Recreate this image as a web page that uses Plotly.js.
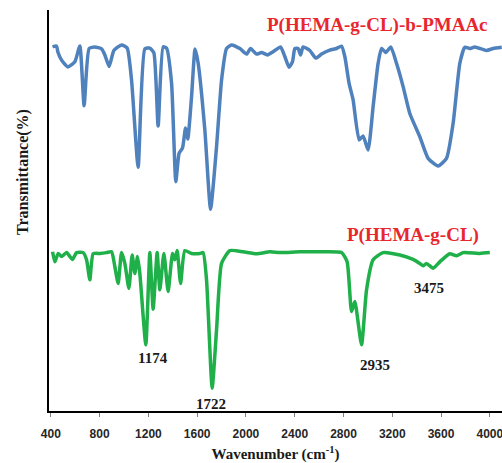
<!DOCTYPE html>
<html>
<head>
<meta charset="utf-8">
<script src="https://cdn.plot.ly/plotly-3.0.1.min.js"></script>
<style>html,body{margin:0;padding:0;background:#fff;}#chart{width:502px;height:463px;}</style>
</head>
<body>
<div id="chart"></div>
<script>
// P(HEMA-g-CL)-b-PMAAc spectrum (upper, blue)
const blueWavenumber = [414,447,457,488,539,597,638,673,714,761,816,843,878,917,980,1026,1062,1116,1171,1212,1245,1280,1321,1349,1390,1425,1452,1480,1505,1523,1554,1583,1608,1663,1710,1759,1800,1841,1882,1950,2005,2038,2087,2128,2177,2223,2284,2319,2354,2382,2401,2428,2448,2469,2524,2573,2620,2688,2743,2784,2811,2846,2879,2928,2961,3002,3043,3084,3112,3147,3188,3235,3289,3344,3426,3494,3576,3645,3699,3754,3795,3836,3877,3973,4027,4098];
const blueTransmittance = [90.8,91.0,89.6,87.5,85.8,87.1,91.0,76.1,90.4,90.8,90.3,88.8,85.9,89.9,91.3,90.5,82.5,60.8,90.3,90.5,89.3,71.1,90.8,90.5,81.8,57.2,64.3,65.6,70.6,67.8,78.4,90.3,86.8,70.1,50.3,65.9,82.5,90.4,91.3,90.4,89.0,90.4,89.0,89.4,88.8,89.6,90.8,88.4,85.7,87.1,90.4,90.4,88.8,90.8,89.9,88.0,89.0,90.0,90.4,91.0,88.4,81.7,77.6,67.6,68.6,65.1,75.9,86.7,90.4,89.4,90.8,86.7,80.9,74.2,68.4,63.0,61.1,63.0,71.7,86.7,90.7,90.4,90.8,89.9,90.4,90.7];

// P(HEMA-g-CL) spectrum (lower, green)
const greenWavenumber = [414,433,460,488,529,578,611,665,693,720,747,802,857,898,925,952,980,1007,1040,1067,1089,1111,1130,1179,1212,1239,1272,1294,1327,1362,1398,1417,1436,1464,1499,1554,1622,1649,1677,1723,1759,1800,1868,1977,2087,2196,2278,2442,2606,2784,2830,2866,2893,2948,2989,3043,3125,3262,3371,3426,3453,3481,3535,3590,3672,3727,3781,3918,4000];
const greenTransmittance = [39.7,37.2,39.3,38.5,39.5,37.8,39.5,39.5,37.7,32.7,39.2,39.3,39.5,39.7,36.0,31.8,39.5,36.8,30.6,38.9,34.3,38.5,34.3,16.5,39.5,25.4,39.5,30.2,39.3,29.8,39.3,37.7,40.0,31.8,40.0,39.3,39.3,39.5,32.7,5.7,20.2,36.8,40.0,39.7,39.2,39.7,39.5,39.7,39.7,39.5,37.2,24.8,27.3,16.5,30.2,37.7,39.5,38.9,37.8,36.8,36.2,36.8,35.6,37.2,39.2,38.7,39.5,39.3,39.5];

const xTickValues = [400,800,1200,1600,2000,2400,2800,3200,3600,4000];
const xTickLabels = ["400","800","1200","1600","2000","2400","2800","3200","3600","4000"];

const seriesNames = ["P(HEMA-g-CL)-b-PMAAc","P(HEMA-g-CL)"];
const peakLabels = ["1174","1722","2935","3475"];
const peakLabelWavenumber = [1236,1712,3057,3500];
const peakLabelTransmittance = [13.2,1.7,11.5,30.7];

const serif = "Liberation Serif, Times New Roman, serif";

const traces = [
  {x: blueWavenumber, y: blueTransmittance, type: "scatter", mode: "lines", name: seriesNames[0],
   line: {color: "#4f81bd", width: 3.5, shape: "spline", smoothing: 0.5}},
  {x: greenWavenumber, y: greenTransmittance, type: "scatter", mode: "lines", name: seriesNames[1],
   line: {color: "#1fb04a", width: 3.5, shape: "spline", smoothing: 0.5}}
];

const annotations = [
  {text: "<b>" + seriesNames[0] + "</b>", xref: "x", yref: "y", x: 3081, y: 96.3, showarrow: false,
   xanchor: "center", yanchor: "middle",
   font: {family: serif, size: 19, color: "#e8262e"}},
  {text: "<b>" + seriesNames[1] + "</b>", xref: "x", yref: "y", x: 3373, y: 44.0, showarrow: false,
   xanchor: "center", yanchor: "middle",
   font: {family: serif, size: 19, color: "#e8262e"}},
  {text: "<b>Transmittance(%)</b>", xref: "paper", yref: "paper", x: -0.0574, y: 0.596, textangle: -90,
   xanchor: "center", yanchor: "middle",
   showarrow: false, font: {family: serif, size: 16, color: "#1a1a1a"}}
];
for (let i = 0; i < peakLabels.length; i++) {
  annotations.push({text: "<b>" + peakLabels[i] + "</b>", xref: "x", yref: "y",
    x: peakLabelWavenumber[i], y: peakLabelTransmittance[i], showarrow: false,
    xanchor: "center", yanchor: "middle",
    font: {family: serif, size: 15, color: "#1a1a1a"}});
}

const layout = {
  width: 502, height: 463,
  margin: {l: 49, r: 0, t: 10, b: 52},
  paper_bgcolor: "#ffffff", plot_bgcolor: "#ffffff",
  showlegend: false,
  xaxis: {
    range: [385, 4100], showgrid: false, zeroline: false,
    showline: true, linecolor: "#000000", linewidth: 2,
    tickvals: xTickValues, ticktext: xTickLabels,
    ticks: "outside", ticklen: 4, tickcolor: "#808080", tickwidth: 1,
    ticklabelstandoff: 7, ticklabeloverflow: "allow",
    tickfont: {family: "Liberation Sans, Arial, sans-serif", size: 12, color: "#262626", weight: "bold"},
    title: {text: "<b>Wavenumber (cm<sup>-1</sup>)</b>", standoff: 13,
            font: {family: serif, size: 15, color: "#1a1a1a"}}
  },
  yaxis: {
    range: [0, 100], showgrid: false, zeroline: false,
    showline: true, linecolor: "#000000", linewidth: 2,
    showticklabels: false, ticks: ""
  },
  annotations: annotations
};

Plotly.newPlot("chart", traces, layout, {displayModeBar: false, staticPlot: true});
</script>
</body>
</html>
